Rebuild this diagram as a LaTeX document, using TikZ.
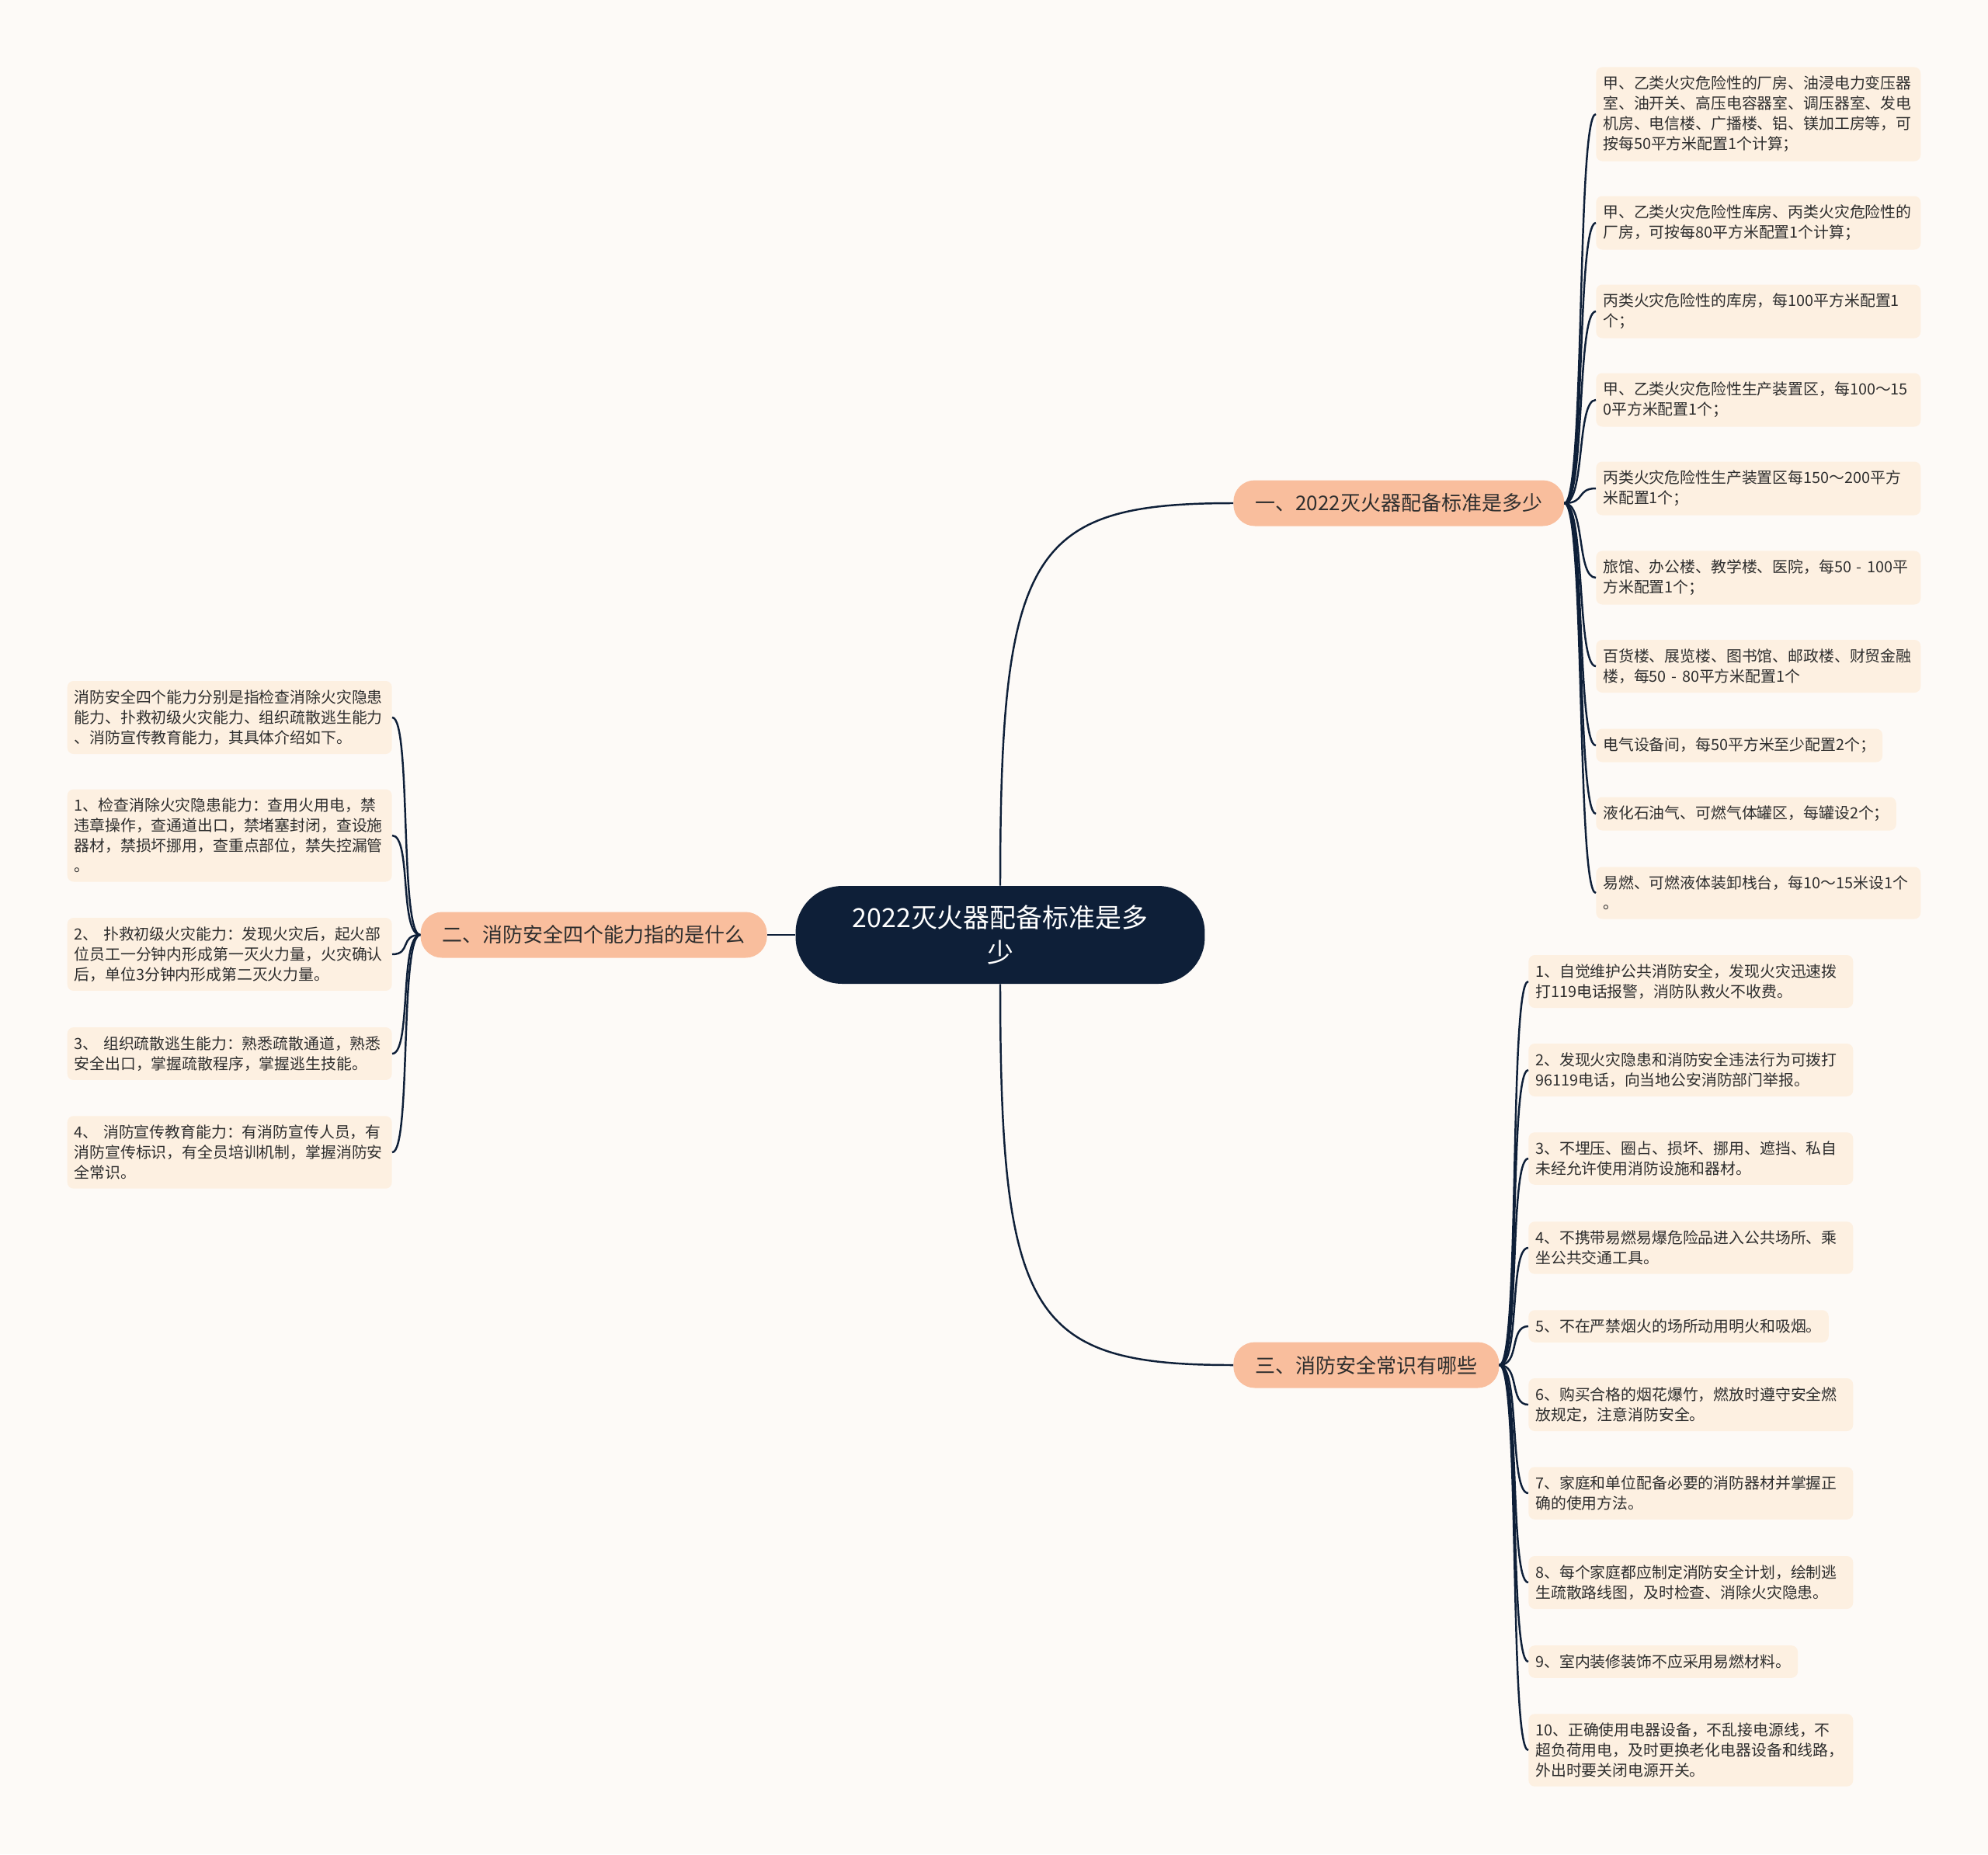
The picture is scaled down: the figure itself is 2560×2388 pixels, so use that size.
\documentclass[tikz,border=0pt]{standalone}
\usepackage{fontspec}
\setmainfont{Noto Sans CJK SC}
\usetikzlibrary{calc}
\definecolor{bgc}{HTML}{FDFAF7}
\definecolor{rootc}{HTML}{0E1F38}
\definecolor{topicc}{HTML}{F9BE9D}
\definecolor{leafc}{HTML}{FDF0E1}
\definecolor{inkc}{HTML}{2E2E2E}

\begin{document}
\begin{tikzpicture}[
    x=0.02cm, y=-0.02cm,
    rootbox/.style={fill=rootc,text=white,rounded corners=1.2cm,minimum width=10.54cm,minimum height=2.52cm,align=center,font=\fontsize{19.3pt}{25.6pt}\selectfont},
    topic/.style={fill=topicc,text=inkc,rounded corners=0.55cm,minimum height=1.18cm,inner xsep=0.56cm,font=\fontsize{14.8pt}{18pt}\selectfont},
    leaf/.style={fill=leafc,text=inkc,rounded corners=0.16cm,inner xsep=0.18cm,inner ysep=0.23cm,align=left,font=\fontsize{11.3pt}{14.8pt}\selectfont},
    wide/.style={text width=8cm},
    link/.style={draw=rootc,line width=1.4pt},
  ]
\useasboundingbox (0,0) rectangle (2560,2388);
\fill[bgc] (0,0) rectangle (2560,2388);

% ======================= centre and main topics =======================
\node[rootbox] (root) at (1288,1204) {2022灭火器配备标准是多\\少};
\node[topic,anchor=west] (one) at (1588,648) {一、2022灭火器配备标准是多少};
\node[topic,anchor=east] (two) at (988,1204) {二、消防安全四个能力指的是什么};
\node[topic,anchor=west] (three) at (1588,1758) {三、消防安全常识有哪些};

\draw[link] (root.north) .. controls ($(root.north |- one.west)+(0,60)$) and ($(root.north |- one.west)+(40,0)$) .. (one.west);
\draw[link] (root.south) .. controls ($(root.south |- three.west)+(0,-60)$) and ($(root.south |- three.west)+(40,0)$) .. (three.west);
\draw[link] (root.west) -- (two.east);

% ======================= branch one: per-area rules =======================
\node[leaf,wide,anchor=west] (a1) at (2055,147) {甲、乙类火灾危险性的厂房、油浸电力变压器\\室、油开关、高压电容器室、调压器室、发电\\机房、电信楼、广播楼、铝、镁加工房等，可\\按每50平方米配置1个计算；};
\node[leaf,wide,anchor=west] (a2) at (2055,287) {甲、乙类火灾危险性库房、丙类火灾危险性的\\厂房，可按每80平方米配置1个计算；};
\node[leaf,wide,anchor=west] (a3) at (2055,401) {丙类火灾危险性的库房，每100平方米配置1\\个；};
\node[leaf,wide,anchor=west] (a4) at (2055,515) {甲、乙类火灾危险性生产装置区，每100～15\\0平方米配置1个；};
\node[leaf,wide,anchor=west] (a5) at (2055,629) {丙类火灾危险性生产装置区每150～200平方\\米配置1个；};
\node[leaf,wide,anchor=west] (a6) at (2055,744) {旅馆、办公楼、教学楼、医院，每50 - 100平\\方米配置1个；};
\node[leaf,wide,anchor=west] (a7) at (2055,858) {百货楼、展览楼、图书馆、邮政楼、财贸金融\\楼，每50 - 80平方米配置1个};
\node[leaf,anchor=west] (a8) at (2055,960) {电气设备间，每50平方米至少配置2个；};
\node[leaf,anchor=west] (a9) at (2055,1048) {液化石油气、可燃气体罐区，每罐设2个；};
\node[leaf,wide,anchor=west] (a10) at (2055,1150) {易燃、可燃液体装卸栈台，每10～15米设1个\\。};

\foreach \n in {a1,a2,a3,a4,a5,a6,a7,a8,a9,a10}
  \draw[link] (one.east) .. controls +(27,0) and +(-25,0) .. (\n.west);

% ======================= branch two: four abilities =======================
\node[leaf,wide,anchor=east] (b1) at (505,924) {消防安全四个能力分别是指检查消除火灾隐患\\能力、扑救初级火灾能力、组织疏散逃生能力\\、消防宣传教育能力，其具体介绍如下。};
\node[leaf,wide,anchor=east] (b2) at (505,1076) {1、检查消除火灾隐患能力：查用火用电，禁\\违章操作，查通道出口，禁堵塞封闭，查设施\\器材，禁损坏挪用，查重点部位，禁失控漏管\\。};
\node[leaf,wide,anchor=east] (b3) at (505,1229) {2、 扑救初级火灾能力：发现火灾后，起火部\\位员工一分钟内形成第一灭火力量，火灾确认\\后，单位3分钟内形成第二灭火力量。};
\node[leaf,wide,anchor=east] (b4) at (505,1357) {3、 组织疏散逃生能力：熟悉疏散通道，熟悉\\安全出口，掌握疏散程序，掌握逃生技能。};
\node[leaf,wide,anchor=east] (b5) at (505,1484) {4、 消防宣传教育能力：有消防宣传人员，有\\消防宣传标识，有全员培训机制，掌握消防安\\全常识。};

\foreach \n in {b1,b2,b3,b4,b5}
  \draw[link] (two.west) .. controls +(-27,0) and +(25,0) .. (\n.east);

% ======================= branch three: common sense =======================
\node[leaf,wide,anchor=west] (c1) at (1968,1264) {1、自觉维护公共消防安全，发现火灾迅速拨\\打119电话报警，消防队救火不收费。};
\node[leaf,wide,anchor=west] (c2) at (1968,1378) {2、发现火灾隐患和消防安全违法行为可拨打\\96119电话，向当地公安消防部门举报。};
\node[leaf,wide,anchor=west] (c3) at (1968,1492) {3、不埋压、圈占、损坏、挪用、遮挡、私自\\未经允许使用消防设施和器材。};
\node[leaf,wide,anchor=west] (c4) at (1968,1607) {4、不携带易燃易爆危险品进入公共场所、乘\\坐公共交通工具。};
\node[leaf,anchor=west] (c5) at (1968,1708) {5、不在严禁烟火的场所动用明火和吸烟。};
\node[leaf,wide,anchor=west] (c6) at (1968,1809) {6、购买合格的烟花爆竹，燃放时遵守安全燃\\放规定，注意消防安全。};
\node[leaf,wide,anchor=west] (c7) at (1968,1923) {7、家庭和单位配备必要的消防器材并掌握正\\确的使用方法。};
\node[leaf,wide,anchor=west] (c8) at (1968,2038) {8、每个家庭都应制定消防安全计划，绘制逃\\生疏散路线图，及时检查、消除火灾隐患。};
\node[leaf,anchor=west] (c9) at (1968,2140) {9、室内装修装饰不应采用易燃材料。};
\node[leaf,wide,anchor=west] (c10) at (1968,2254) {10、正确使用电器设备，不乱接电源线，不\\超负荷用电，及时更换老化电器设备和线路，\\外出时要关闭电源开关。};

\foreach \n in {c1,c2,c3,c4,c5,c6,c7,c8,c9,c10}
  \draw[link] (three.east) .. controls +(27,0) and +(-25,0) .. (\n.west);

\end{tikzpicture}
\end{document}
